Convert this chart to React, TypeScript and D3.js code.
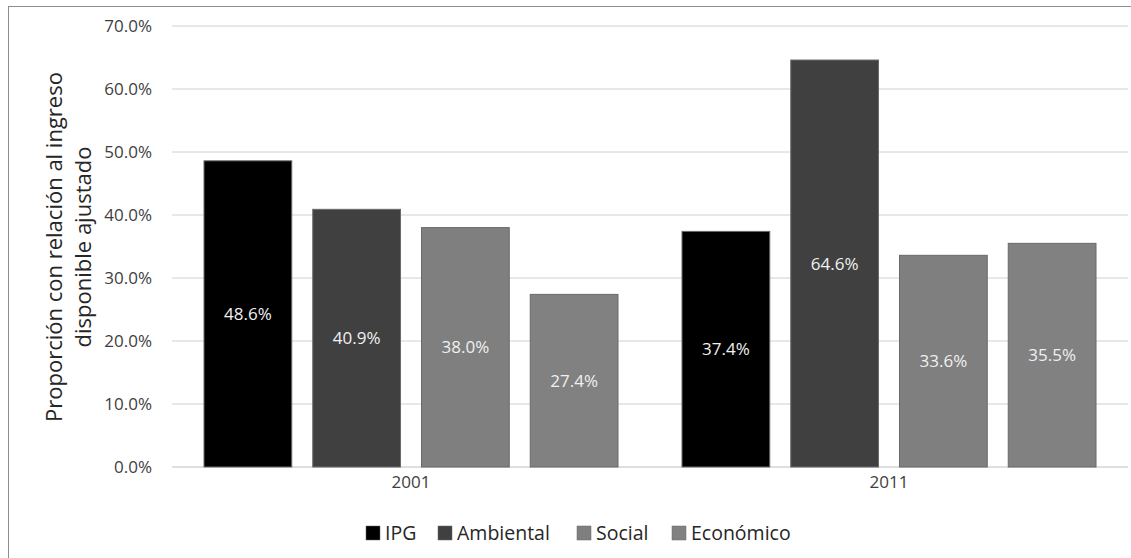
import React from "react";
import * as d3 from "d3";

const years = ["2001", "2011"];
const seriesNames = ["IPG", "Ambiental", "Social", "Económico"];
const seriesColors = ["#000000", "#404040", "#7f7f7f", "#818181"];
const values: number[][] = [
  [48.6, 40.9, 38.0, 27.4], // 2001
  [37.4, 64.6, 33.6, 35.5], // 2011
];
const yTicks = [0, 10, 20, 30, 40, 50, 60, 70];

const W = 1131;
const H = 558;
const FONT = "'Open Sans', 'Liberation Sans', sans-serif";

export default function App() {
  const left = 172, right = 1128, top = 26, bottom = 467;
  const x = d3.scaleBand<string>().domain(years).range([left, right]).paddingInner(0).paddingOuter(0);
  const y = d3.scaleLinear().domain([0, 70]).range([bottom, top]);
  const inner = d3.scaleBand<string>().domain(seriesNames).range([32, x.bandwidth() - 32]).paddingInner(0.193);

  const legendX = [366, 438, 577, 672];

  return (
    <svg width={W} height={H} style={{ position: "absolute", left: 0, top: 0, fontFamily: FONT }}>
      <rect x={0} y={0} width={W} height={H} fill="#fff" />
      <rect x={8.5} y={6.5} width={W + 10} height={H + 10} fill="none" stroke="#8c8c8c" strokeWidth={1} />
      {yTicks.map((t) => (
        <g key={t}>
          <line x1={left} x2={right} y1={y(t)} y2={y(t)} stroke={t === 0 ? "#bfbfbf" : "#d0d0d0"} strokeWidth={1} />
          <text x={152} y={y(t)} dy="0.36em" textAnchor="end" fontSize={17} fill="#404040">
            {t.toFixed(1)}%
          </text>
        </g>
      ))}
      {years.map((yr, gi) => (
        <g key={yr}>
          {seriesNames.map((s, si) => {
            const v = values[gi][si];
            const bx = (x(yr) as number) + (inner(s) as number);
            const bw = inner.bandwidth();
            return (
              <g key={s}>
                <rect x={bx} y={y(v)} width={bw} height={bottom - y(v)} fill={seriesColors[si]} stroke="#6a6a6a" strokeWidth={1} />
                <text x={bx + bw / 2} y={(y(v) + bottom) / 2} dy="0.36em" textAnchor="middle" fontSize={17} fill="#f0f0f0">
                  {v.toFixed(1)}%
                </text>
              </g>
            );
          })}
          <text x={(x(yr) as number) + x.bandwidth() / 2} y={488} textAnchor="middle" fontSize={17} fill="#404040">
            {yr}
          </text>
        </g>
      ))}
      <g transform="translate(62,247) rotate(-90)">
        <text x={0} y={0} textAnchor="middle" fontSize={22} fill="#262626">Proporción con relación al ingreso</text>
        <text x={0} y={29} textAnchor="middle" fontSize={22} fill="#262626">disponible ajustado</text>
      </g>
      {seriesNames.map((s, i) => (
        <g key={s}>
          <rect x={legendX[i]} y={526} width={14} height={14} fill={seriesColors[i]} stroke="#6a6a6a" strokeWidth={0.5} />
          <text x={legendX[i] + 19} y={540} fontSize={19.5} fill="#262626">{s}</text>
        </g>
      ))}
    </svg>
  );
}
